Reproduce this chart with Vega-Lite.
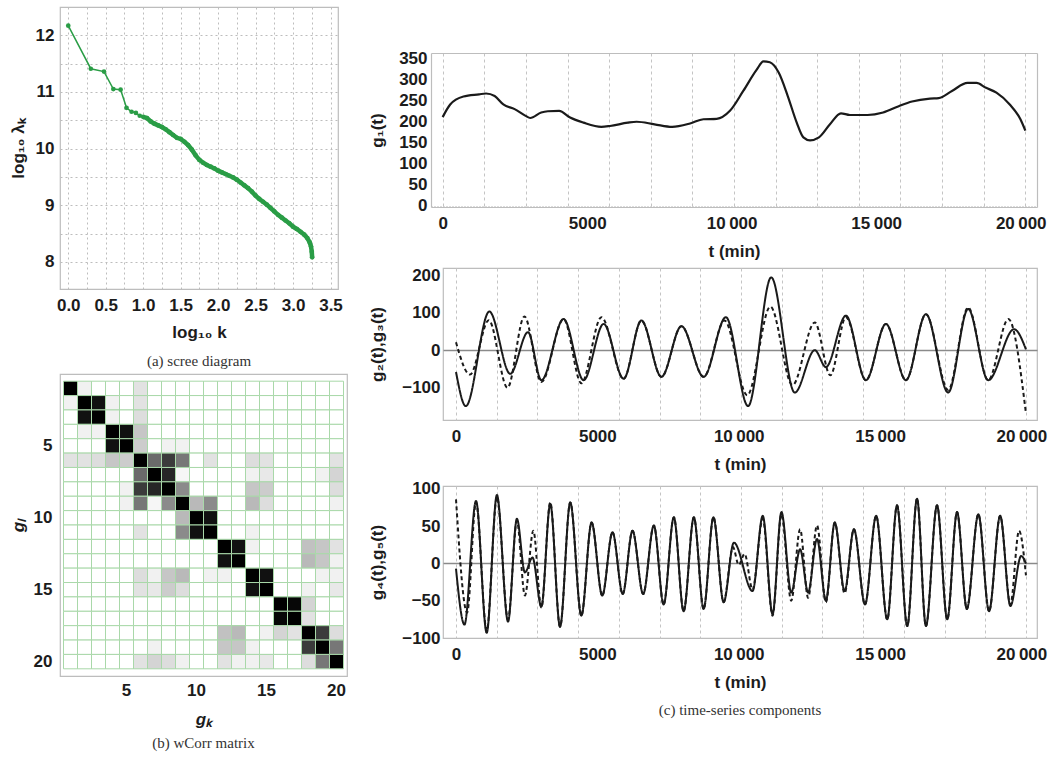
{
"$schema": "https://vega.github.io/schema/vega-lite/v6.json",
"background": "white",
"padding": {"left": 8, "top": 6, "right": 0, "bottom": 0},
"spacing": 19,
"config": {
  "view": {"stroke": "#bdbdbd", "strokeWidth": 1.2},
  "axis": {"labelFont": "Liberation Sans", "labelFontSize": 17, "labelFontWeight": "bold", "labelColor": "#1c1c1c", "titleFont": "Liberation Sans", "titleFontSize": 17, "titleFontWeight": "bold", "titleColor": "#1c1c1c", "domain": false, "ticks": false, "tickSize": 0, "labelOverlap": false, "grid": false, "labelPadding": 8},
  "title": {"font": "Liberation Serif", "fontSize": 15, "fontWeight": "normal", "color": "#333"}
},
"datasets": {
  "scree": [
    {"logk":0,"y":12.17},{"logk":0.301,"y":11.41},{"logk":0.477,"y":11.36},{"logk":0.602,"y":11.05},{"logk":0.699,"y":11.04},{"logk":0.778,"y":10.72},{"logk":0.845,"y":10.65},{"logk":0.903,"y":10.63},{"logk":0.954,"y":10.58},
    {"logk":1.0,"y":10.56},{"logk":1.05,"y":10.54},{"logk":1.1,"y":10.48},{"logk":1.15,"y":10.44},{"logk":1.2,"y":10.41},{"logk":1.25,"y":10.38},{"logk":1.3,"y":10.34},{"logk":1.35,"y":10.29},{"logk":1.4,"y":10.24},{"logk":1.45,"y":10.19},{"logk":1.5,"y":10.17},{"logk":1.55,"y":10.12},{"logk":1.6,"y":10.06},{"logk":1.65,"y":9.98},{"logk":1.7,"y":9.88},{"logk":1.75,"y":9.8},{"logk":1.8,"y":9.75},{"logk":1.85,"y":9.71},{"logk":1.9,"y":9.68},{"logk":1.95,"y":9.65},{"logk":2.0,"y":9.61},{"logk":2.05,"y":9.58},{"logk":2.1,"y":9.55},{"logk":2.15,"y":9.52},{"logk":2.2,"y":9.49},{"logk":2.25,"y":9.45},{"logk":2.3,"y":9.4},{"logk":2.35,"y":9.35},{"logk":2.4,"y":9.3},{"logk":2.45,"y":9.24},{"logk":2.5,"y":9.17},{"logk":2.55,"y":9.11},{"logk":2.6,"y":9.06},{"logk":2.65,"y":9.01},{"logk":2.7,"y":8.95},{"logk":2.75,"y":8.89},{"logk":2.8,"y":8.83},{"logk":2.85,"y":8.78},{"logk":2.9,"y":8.73},{"logk":2.95,"y":8.68},{"logk":3.0,"y":8.62},{"logk":3.05,"y":8.58},{"logk":3.1,"y":8.53},{"logk":3.15,"y":8.48},{"logk":3.19,"y":8.42},{"logk":3.22,"y":8.35},{"logk":3.24,"y":8.27},{"logk":3.25,"y":8.18},{"logk":3.255,"y":8.08}
  ],
  "g1": [
    {"t":0,"v":210},{"t":260,"v":240},{"t":720,"v":259},{"t":1260,"v":264},{"t":1500,"v":266},{"t":1800,"v":260},{"t":2100,"v":240},{"t":2490,"v":229},{"t":2870,"v":213},{"t":3030,"v":208},{"t":3410,"v":221},{"t":3640,"v":224},{"t":4030,"v":225},{"t":4410,"v":209},{"t":4870,"v":197},{"t":5490,"v":187},{"t":5790,"v":189},{"t":6410,"v":197},{"t":6710,"v":199},{"t":7330,"v":193},{"t":7940,"v":187},{"t":8560,"v":195},{"t":9020,"v":205},{"t":9480,"v":206},{"t":9940,"v":225},{"t":10400,"v":272},{"t":10860,"v":322},{"t":11100,"v":342},{"t":11320,"v":340},{"t":11630,"v":315},{"t":11940,"v":260},{"t":12250,"v":197},{"t":12480,"v":162},{"t":12710,"v":155},{"t":13020,"v":162},{"t":13400,"v":193},{"t":13780,"v":219},{"t":14090,"v":215},{"t":14700,"v":215},{"t":15240,"v":221},{"t":15780,"v":236},{"t":16240,"v":247},{"t":16860,"v":254},{"t":17160,"v":255},{"t":17620,"v":272},{"t":18160,"v":291},{"t":18470,"v":291},{"t":18780,"v":280},{"t":19160,"v":268},{"t":19620,"v":240},{"t":19990,"v":205},{"t":20160,"v":178}
  ],
  "g23": [
    {"s":"g2","t":0,"v":-58},{"s":"g2","t":346,"v":-149},{"s":"g2","t":1179,"v":103},{"s":"g2","t":1918,"v":-63},{"s":"g2","t":2547,"v":48},{"s":"g2","t":3019,"v":-80},{"s":"g2","t":3805,"v":83},{"s":"g2","t":4513,"v":-80},{"s":"g2","t":5221,"v":70},{"s":"g2","t":5928,"v":-76},{"s":"g2","t":6557,"v":79},{"s":"g2","t":7265,"v":-71},{"s":"g2","t":7973,"v":64},{"s":"g2","t":8759,"v":-71},{"s":"g2","t":9545,"v":88},{"s":"g2","t":10331,"v":-149},{"s":"g2","t":11149,"v":194},{"s":"g2","t":11982,"v":-113},{"s":"g2","t":12690,"v":0},{"s":"g2","t":13083,"v":-45},{"s":"g2","t":13791,"v":92},{"s":"g2","t":14498,"v":-80},{"s":"g2","t":15206,"v":70},{"s":"g2","t":15914,"v":-80},{"s":"g2","t":16621,"v":96},{"s":"g2","t":17407,"v":-113},{"s":"g2","t":18115,"v":110},{"s":"g2","t":18823,"v":-80},{"s":"g2","t":19738,"v":56},{"s":"g2","t":20160,"v":2},
    {"s":"g3","t":0,"v":21},{"s":"g3","t":495,"v":-65},{"s":"g3","t":1160,"v":80},{"s":"g3","t":1820,"v":-100},{"s":"g3","t":2420,"v":90},{"s":"g3","t":3019,"v":-85},{"s":"g3","t":3805,"v":83},{"s":"g3","t":4434,"v":-88},{"s":"g3","t":5142,"v":88},{"s":"g3","t":5928,"v":-76},{"s":"g3","t":6557,"v":79},{"s":"g3","t":7265,"v":-71},{"s":"g3","t":7973,"v":64},{"s":"g3","t":8759,"v":-71},{"s":"g3","t":9500,"v":79},{"s":"g3","t":10300,"v":-120},{"s":"g3","t":11120,"v":116},{"s":"g3","t":11900,"v":-93},{"s":"g3","t":12690,"v":74},{"s":"g3","t":13240,"v":-67},{"s":"g3","t":13791,"v":88},{"s":"g3","t":14498,"v":-80},{"s":"g3","t":15206,"v":70},{"s":"g3","t":15914,"v":-80},{"s":"g3","t":16621,"v":96},{"s":"g3","t":17407,"v":-106},{"s":"g3","t":18115,"v":114},{"s":"g3","t":18823,"v":-80},{"s":"g3","t":19537,"v":83},{"s":"g3","t":20160,"v":-169}
  ],
  "g45": [
    {"s":"g4","t":0,"v":-7},{"s":"g4","t":299,"v":-82},{"s":"g4","t":708,"v":84},{"s":"g4","t":1085,"v":-93},{"s":"g4","t":1447,"v":92},{"s":"g4","t":1840,"v":-78},{"s":"g4","t":2154,"v":60},{"s":"g4","t":2437,"v":-12},{"s":"g4","t":2705,"v":8},{"s":"g4","t":3019,"v":-58},{"s":"g4","t":3334,"v":80},{"s":"g4","t":3680,"v":-85},{"s":"g4","t":4041,"v":82},{"s":"g4","t":4434,"v":-70},{"s":"g4","t":4796,"v":55},{"s":"g4","t":5173,"v":-43},{"s":"g4","t":5535,"v":42},{"s":"g4","t":5897,"v":-41},{"s":"g4","t":6243,"v":44},{"s":"g4","t":6620,"v":-41},{"s":"g4","t":6998,"v":51},{"s":"g4","t":7344,"v":-55},{"s":"g4","t":7705,"v":62},{"s":"g4","t":8051,"v":-64},{"s":"g4","t":8413,"v":62},{"s":"g4","t":8759,"v":-61},{"s":"g4","t":9105,"v":62},{"s":"g4","t":9466,"v":-52},{"s":"g4","t":9828,"v":28},{"s":"g4","t":10489,"v":-37},{"s":"g4","t":10850,"v":64},{"s":"g4","t":11196,"v":-68},{"s":"g4","t":11511,"v":69},{"s":"g4","t":11857,"v":-39},{"s":"g4","t":12171,"v":19},{"s":"g4","t":12454,"v":-39},{"s":"g4","t":12769,"v":33},{"s":"g4","t":13083,"v":-50},{"s":"g4","t":13397,"v":55},{"s":"g4","t":13744,"v":-37},{"s":"g4","t":14074,"v":46},{"s":"g4","t":14467,"v":-55},{"s":"g4","t":14860,"v":64},{"s":"g4","t":15253,"v":-75},{"s":"g4","t":15599,"v":78},{"s":"g4","t":15961,"v":-84},{"s":"g4","t":16307,"v":87},{"s":"g4","t":16621,"v":-84},{"s":"g4","t":17014,"v":78},{"s":"g4","t":17376,"v":-75},{"s":"g4","t":17722,"v":69},{"s":"g4","t":18068,"v":-61},{"s":"g4","t":18476,"v":66},{"s":"g4","t":18854,"v":-64},{"s":"g4","t":19247,"v":64},{"s":"g4","t":19609,"v":-57},{"s":"g4","t":19990,"v":10},{"s":"g4","t":20160,"v":0},
    {"s":"g5","t":0,"v":86},{"s":"g5","t":393,"v":-66},{"s":"g5","t":708,"v":82},{"s":"g5","t":1085,"v":-90},{"s":"g5","t":1447,"v":89},{"s":"g5","t":1840,"v":-75},{"s":"g5","t":2154,"v":57},{"s":"g5","t":2437,"v":-43},{"s":"g5","t":2736,"v":44},{"s":"g5","t":3019,"v":-59},{"s":"g5","t":3334,"v":82},{"s":"g5","t":3680,"v":-85},{"s":"g5","t":4041,"v":82},{"s":"g5","t":4434,"v":-70},{"s":"g5","t":4796,"v":55},{"s":"g5","t":5173,"v":-43},{"s":"g5","t":5535,"v":42},{"s":"g5","t":5897,"v":-41},{"s":"g5","t":6243,"v":44},{"s":"g5","t":6620,"v":-41},{"s":"g5","t":6998,"v":51},{"s":"g5","t":7344,"v":-55},{"s":"g5","t":7705,"v":62},{"s":"g5","t":8051,"v":-64},{"s":"g5","t":8413,"v":62},{"s":"g5","t":8759,"v":-61},{"s":"g5","t":9105,"v":62},{"s":"g5","t":9466,"v":-52},{"s":"g5","t":9797,"v":22},{"s":"g5","t":10000,"v":-2},{"s":"g5","t":10206,"v":13},{"s":"g5","t":10489,"v":-35},{"s":"g5","t":10850,"v":60},{"s":"g5","t":11196,"v":-70},{"s":"g5","t":11511,"v":66},{"s":"g5","t":11857,"v":-50},{"s":"g5","t":12171,"v":46},{"s":"g5","t":12454,"v":-46},{"s":"g5","t":12769,"v":51},{"s":"g5","t":13083,"v":-52},{"s":"g5","t":13397,"v":55},{"s":"g5","t":13744,"v":-40},{"s":"g5","t":14074,"v":46},{"s":"g5","t":14467,"v":-55},{"s":"g5","t":14860,"v":64},{"s":"g5","t":15253,"v":-75},{"s":"g5","t":15599,"v":78},{"s":"g5","t":15961,"v":-84},{"s":"g5","t":16307,"v":87},{"s":"g5","t":16621,"v":-84},{"s":"g5","t":17014,"v":78},{"s":"g5","t":17376,"v":-75},{"s":"g5","t":17722,"v":69},{"s":"g5","t":18068,"v":-61},{"s":"g5","t":18476,"v":66},{"s":"g5","t":18854,"v":-64},{"s":"g5","t":19247,"v":64},{"s":"g5","t":19609,"v":-55},{"s":"g5","t":19915,"v":44},{"s":"g5","t":20160,"v":-16}
  ],
  "wcorr": [
{"i":1,"k":1,"w":1},{"i":1,"k":2,"w":0.05},{"i":1,"k":3,"w":0},{"i":1,"k":4,"w":0},{"i":1,"k":5,"w":0},{"i":1,"k":6,"w":0.1},{"i":1,"k":7,"w":0},{"i":1,"k":8,"w":0},{"i":1,"k":9,"w":0},{"i":1,"k":10,"w":0},{"i":1,"k":11,"w":0},{"i":1,"k":12,"w":0},{"i":1,"k":13,"w":0},{"i":1,"k":14,"w":0},{"i":1,"k":15,"w":0},{"i":1,"k":16,"w":0},{"i":1,"k":17,"w":0},{"i":1,"k":18,"w":0},{"i":1,"k":19,"w":0},{"i":1,"k":20,"w":0},
{"i":2,"k":1,"w":0.05},{"i":2,"k":2,"w":1},{"i":2,"k":3,"w":0.95},{"i":2,"k":4,"w":0.05},{"i":2,"k":5,"w":0},{"i":2,"k":6,"w":0.1},{"i":2,"k":7,"w":0},{"i":2,"k":8,"w":0},{"i":2,"k":9,"w":0},{"i":2,"k":10,"w":0},{"i":2,"k":11,"w":0},{"i":2,"k":12,"w":0},{"i":2,"k":13,"w":0},{"i":2,"k":14,"w":0},{"i":2,"k":15,"w":0},{"i":2,"k":16,"w":0},{"i":2,"k":17,"w":0},{"i":2,"k":18,"w":0},{"i":2,"k":19,"w":0},{"i":2,"k":20,"w":0},
{"i":3,"k":1,"w":0},{"i":3,"k":2,"w":0.95},{"i":3,"k":3,"w":1},{"i":3,"k":4,"w":0.05},{"i":3,"k":5,"w":0},{"i":3,"k":6,"w":0.12},{"i":3,"k":7,"w":0},{"i":3,"k":8,"w":0},{"i":3,"k":9,"w":0},{"i":3,"k":10,"w":0},{"i":3,"k":11,"w":0},{"i":3,"k":12,"w":0},{"i":3,"k":13,"w":0},{"i":3,"k":14,"w":0},{"i":3,"k":15,"w":0},{"i":3,"k":16,"w":0},{"i":3,"k":17,"w":0},{"i":3,"k":18,"w":0},{"i":3,"k":19,"w":0},{"i":3,"k":20,"w":0},
{"i":4,"k":1,"w":0},{"i":4,"k":2,"w":0.05},{"i":4,"k":3,"w":0.05},{"i":4,"k":4,"w":1},{"i":4,"k":5,"w":0.95},{"i":4,"k":6,"w":0.2},{"i":4,"k":7,"w":0},{"i":4,"k":8,"w":0},{"i":4,"k":9,"w":0},{"i":4,"k":10,"w":0},{"i":4,"k":11,"w":0},{"i":4,"k":12,"w":0},{"i":4,"k":13,"w":0},{"i":4,"k":14,"w":0},{"i":4,"k":15,"w":0},{"i":4,"k":16,"w":0},{"i":4,"k":17,"w":0},{"i":4,"k":18,"w":0},{"i":4,"k":19,"w":0},{"i":4,"k":20,"w":0},
{"i":5,"k":1,"w":0},{"i":5,"k":2,"w":0},{"i":5,"k":3,"w":0},{"i":5,"k":4,"w":0.95},{"i":5,"k":5,"w":1},{"i":5,"k":6,"w":0.18},{"i":5,"k":7,"w":0},{"i":5,"k":8,"w":0.05},{"i":5,"k":9,"w":0.05},{"i":5,"k":10,"w":0},{"i":5,"k":11,"w":0},{"i":5,"k":12,"w":0},{"i":5,"k":13,"w":0},{"i":5,"k":14,"w":0},{"i":5,"k":15,"w":0},{"i":5,"k":16,"w":0},{"i":5,"k":17,"w":0},{"i":5,"k":18,"w":0},{"i":5,"k":19,"w":0},{"i":5,"k":20,"w":0},
{"i":6,"k":1,"w":0.1},{"i":6,"k":2,"w":0.1},{"i":6,"k":3,"w":0.12},{"i":6,"k":4,"w":0.2},{"i":6,"k":5,"w":0.18},{"i":6,"k":6,"w":1},{"i":6,"k":7,"w":0.55},{"i":6,"k":8,"w":0.75},{"i":6,"k":9,"w":0.5},{"i":6,"k":10,"w":0},{"i":6,"k":11,"w":0.1},{"i":6,"k":12,"w":0},{"i":6,"k":13,"w":0},{"i":6,"k":14,"w":0.12},{"i":6,"k":15,"w":0.1},{"i":6,"k":16,"w":0},{"i":6,"k":17,"w":0},{"i":6,"k":18,"w":0},{"i":6,"k":19,"w":0},{"i":6,"k":20,"w":0.1},
{"i":7,"k":1,"w":0},{"i":7,"k":2,"w":0},{"i":7,"k":3,"w":0},{"i":7,"k":4,"w":0},{"i":7,"k":5,"w":0},{"i":7,"k":6,"w":0.55},{"i":7,"k":7,"w":1},{"i":7,"k":8,"w":0.85},{"i":7,"k":9,"w":0.03},{"i":7,"k":10,"w":0},{"i":7,"k":11,"w":0},{"i":7,"k":12,"w":0},{"i":7,"k":13,"w":0},{"i":7,"k":14,"w":0.05},{"i":7,"k":15,"w":0.08},{"i":7,"k":16,"w":0},{"i":7,"k":17,"w":0},{"i":7,"k":18,"w":0},{"i":7,"k":19,"w":0.05},{"i":7,"k":20,"w":0.15},
{"i":8,"k":1,"w":0},{"i":8,"k":2,"w":0},{"i":8,"k":3,"w":0},{"i":8,"k":4,"w":0},{"i":8,"k":5,"w":0.05},{"i":8,"k":6,"w":0.75},{"i":8,"k":7,"w":0.85},{"i":8,"k":8,"w":1},{"i":8,"k":9,"w":0.42},{"i":8,"k":10,"w":0},{"i":8,"k":11,"w":0},{"i":8,"k":12,"w":0},{"i":8,"k":13,"w":0},{"i":8,"k":14,"w":0.2},{"i":8,"k":15,"w":0.18},{"i":8,"k":16,"w":0},{"i":8,"k":17,"w":0},{"i":8,"k":18,"w":0},{"i":8,"k":19,"w":0},{"i":8,"k":20,"w":0.12},
{"i":9,"k":1,"w":0},{"i":9,"k":2,"w":0},{"i":9,"k":3,"w":0},{"i":9,"k":4,"w":0},{"i":9,"k":5,"w":0.05},{"i":9,"k":6,"w":0.5},{"i":9,"k":7,"w":0.03},{"i":9,"k":8,"w":0.42},{"i":9,"k":9,"w":1},{"i":9,"k":10,"w":0.25},{"i":9,"k":11,"w":0.42},{"i":9,"k":12,"w":0},{"i":9,"k":13,"w":0},{"i":9,"k":14,"w":0.25},{"i":9,"k":15,"w":0.12},{"i":9,"k":16,"w":0},{"i":9,"k":17,"w":0},{"i":9,"k":18,"w":0},{"i":9,"k":19,"w":0},{"i":9,"k":20,"w":0.05},
{"i":10,"k":1,"w":0},{"i":10,"k":2,"w":0},{"i":10,"k":3,"w":0},{"i":10,"k":4,"w":0},{"i":10,"k":5,"w":0},{"i":10,"k":6,"w":0},{"i":10,"k":7,"w":0},{"i":10,"k":8,"w":0},{"i":10,"k":9,"w":0.25},{"i":10,"k":10,"w":1},{"i":10,"k":11,"w":0.95},{"i":10,"k":12,"w":0},{"i":10,"k":13,"w":0},{"i":10,"k":14,"w":0},{"i":10,"k":15,"w":0},{"i":10,"k":16,"w":0},{"i":10,"k":17,"w":0},{"i":10,"k":18,"w":0},{"i":10,"k":19,"w":0},{"i":10,"k":20,"w":0},
{"i":11,"k":1,"w":0},{"i":11,"k":2,"w":0},{"i":11,"k":3,"w":0},{"i":11,"k":4,"w":0},{"i":11,"k":5,"w":0},{"i":11,"k":6,"w":0.1},{"i":11,"k":7,"w":0},{"i":11,"k":8,"w":0},{"i":11,"k":9,"w":0.42},{"i":11,"k":10,"w":0.95},{"i":11,"k":11,"w":1},{"i":11,"k":12,"w":0},{"i":11,"k":13,"w":0},{"i":11,"k":14,"w":0.05},{"i":11,"k":15,"w":0},{"i":11,"k":16,"w":0},{"i":11,"k":17,"w":0},{"i":11,"k":18,"w":0},{"i":11,"k":19,"w":0},{"i":11,"k":20,"w":0},
{"i":12,"k":1,"w":0},{"i":12,"k":2,"w":0},{"i":12,"k":3,"w":0},{"i":12,"k":4,"w":0},{"i":12,"k":5,"w":0},{"i":12,"k":6,"w":0},{"i":12,"k":7,"w":0},{"i":12,"k":8,"w":0},{"i":12,"k":9,"w":0},{"i":12,"k":10,"w":0},{"i":12,"k":11,"w":0},{"i":12,"k":12,"w":1},{"i":12,"k":13,"w":0.95},{"i":12,"k":14,"w":0.05},{"i":12,"k":15,"w":0},{"i":12,"k":16,"w":0},{"i":12,"k":17,"w":0},{"i":12,"k":18,"w":0.22},{"i":12,"k":19,"w":0.2},{"i":12,"k":20,"w":0.1},
{"i":13,"k":1,"w":0},{"i":13,"k":2,"w":0},{"i":13,"k":3,"w":0},{"i":13,"k":4,"w":0},{"i":13,"k":5,"w":0},{"i":13,"k":6,"w":0},{"i":13,"k":7,"w":0},{"i":13,"k":8,"w":0},{"i":13,"k":9,"w":0},{"i":13,"k":10,"w":0},{"i":13,"k":11,"w":0},{"i":13,"k":12,"w":0.95},{"i":13,"k":13,"w":1},{"i":13,"k":14,"w":0},{"i":13,"k":15,"w":0},{"i":13,"k":16,"w":0},{"i":13,"k":17,"w":0},{"i":13,"k":18,"w":0.25},{"i":13,"k":19,"w":0.2},{"i":13,"k":20,"w":0.05},
{"i":14,"k":1,"w":0},{"i":14,"k":2,"w":0},{"i":14,"k":3,"w":0},{"i":14,"k":4,"w":0},{"i":14,"k":5,"w":0},{"i":14,"k":6,"w":0.12},{"i":14,"k":7,"w":0.05},{"i":14,"k":8,"w":0.2},{"i":14,"k":9,"w":0.25},{"i":14,"k":10,"w":0},{"i":14,"k":11,"w":0.05},{"i":14,"k":12,"w":0.05},{"i":14,"k":13,"w":0},{"i":14,"k":14,"w":1},{"i":14,"k":15,"w":0.95},{"i":14,"k":16,"w":0},{"i":14,"k":17,"w":0},{"i":14,"k":18,"w":0},{"i":14,"k":19,"w":0.05},{"i":14,"k":20,"w":0.05},
{"i":15,"k":1,"w":0},{"i":15,"k":2,"w":0},{"i":15,"k":3,"w":0},{"i":15,"k":4,"w":0},{"i":15,"k":5,"w":0},{"i":15,"k":6,"w":0.1},{"i":15,"k":7,"w":0.08},{"i":15,"k":8,"w":0.18},{"i":15,"k":9,"w":0.12},{"i":15,"k":10,"w":0},{"i":15,"k":11,"w":0},{"i":15,"k":12,"w":0},{"i":15,"k":13,"w":0},{"i":15,"k":14,"w":0.95},{"i":15,"k":15,"w":1},{"i":15,"k":16,"w":0},{"i":15,"k":17,"w":0},{"i":15,"k":18,"w":0.05},{"i":15,"k":19,"w":0},{"i":15,"k":20,"w":0.08},
{"i":16,"k":1,"w":0},{"i":16,"k":2,"w":0},{"i":16,"k":3,"w":0},{"i":16,"k":4,"w":0},{"i":16,"k":5,"w":0},{"i":16,"k":6,"w":0},{"i":16,"k":7,"w":0},{"i":16,"k":8,"w":0},{"i":16,"k":9,"w":0},{"i":16,"k":10,"w":0},{"i":16,"k":11,"w":0},{"i":16,"k":12,"w":0},{"i":16,"k":13,"w":0},{"i":16,"k":14,"w":0},{"i":16,"k":15,"w":0},{"i":16,"k":16,"w":1},{"i":16,"k":17,"w":0.98},{"i":16,"k":18,"w":0.15},{"i":16,"k":19,"w":0},{"i":16,"k":20,"w":0},
{"i":17,"k":1,"w":0},{"i":17,"k":2,"w":0},{"i":17,"k":3,"w":0},{"i":17,"k":4,"w":0},{"i":17,"k":5,"w":0},{"i":17,"k":6,"w":0},{"i":17,"k":7,"w":0},{"i":17,"k":8,"w":0},{"i":17,"k":9,"w":0},{"i":17,"k":10,"w":0},{"i":17,"k":11,"w":0},{"i":17,"k":12,"w":0},{"i":17,"k":13,"w":0},{"i":17,"k":14,"w":0},{"i":17,"k":15,"w":0},{"i":17,"k":16,"w":0.98},{"i":17,"k":17,"w":1},{"i":17,"k":18,"w":0.1},{"i":17,"k":19,"w":0},{"i":17,"k":20,"w":0},
{"i":18,"k":1,"w":0},{"i":18,"k":2,"w":0},{"i":18,"k":3,"w":0},{"i":18,"k":4,"w":0},{"i":18,"k":5,"w":0},{"i":18,"k":6,"w":0},{"i":18,"k":7,"w":0},{"i":18,"k":8,"w":0},{"i":18,"k":9,"w":0},{"i":18,"k":10,"w":0},{"i":18,"k":11,"w":0},{"i":18,"k":12,"w":0.22},{"i":18,"k":13,"w":0.25},{"i":18,"k":14,"w":0},{"i":18,"k":15,"w":0.05},{"i":18,"k":16,"w":0.15},{"i":18,"k":17,"w":0.1},{"i":18,"k":18,"w":1},{"i":18,"k":19,"w":0.75},{"i":18,"k":20,"w":0.12},
{"i":19,"k":1,"w":0},{"i":19,"k":2,"w":0},{"i":19,"k":3,"w":0},{"i":19,"k":4,"w":0},{"i":19,"k":5,"w":0},{"i":19,"k":6,"w":0},{"i":19,"k":7,"w":0.05},{"i":19,"k":8,"w":0},{"i":19,"k":9,"w":0},{"i":19,"k":10,"w":0},{"i":19,"k":11,"w":0},{"i":19,"k":12,"w":0.2},{"i":19,"k":13,"w":0.2},{"i":19,"k":14,"w":0.05},{"i":19,"k":15,"w":0},{"i":19,"k":16,"w":0},{"i":19,"k":17,"w":0},{"i":19,"k":18,"w":0.75},{"i":19,"k":19,"w":1},{"i":19,"k":20,"w":0.5},
{"i":20,"k":1,"w":0},{"i":20,"k":2,"w":0},{"i":20,"k":3,"w":0},{"i":20,"k":4,"w":0},{"i":20,"k":5,"w":0},{"i":20,"k":6,"w":0.1},{"i":20,"k":7,"w":0.15},{"i":20,"k":8,"w":0.12},{"i":20,"k":9,"w":0.05},{"i":20,"k":10,"w":0},{"i":20,"k":11,"w":0},{"i":20,"k":12,"w":0.1},{"i":20,"k":13,"w":0.05},{"i":20,"k":14,"w":0.05},{"i":20,"k":15,"w":0.08},{"i":20,"k":16,"w":0},{"i":20,"k":17,"w":0},{"i":20,"k":18,"w":0.12},{"i":20,"k":19,"w":0.5},{"i":20,"k":20,"w":1}
  ]
},
"hconcat": [
  {
    "vconcat": [
      {
        "width": 278, "height": 282,
        "title": {"text": "(a) scree diagram", "orient": "bottom", "offset": 14},
        "data": {"name": "scree"},
        "encoding": {
          "x": {"field": "logk", "type": "quantitative", "scale": {"domain": [-0.11, 3.6], "nice": false, "zero": false},
            "axis": {"title": "log₁₀ k", "values": [0,0.25,0.5,0.75,1,1.25,1.5,1.75,2,2.25,2.5,2.75,3,3.25,3.5], "labelExpr": "(datum.value*2) % 1 == 0 ? format(datum.value, '.1f') : ''", "grid": true, "gridColor": "#bdbdbd", "gridDash": [2,3], "labelPadding": 8, "titlePadding": 11}},
          "y": {"field": "y", "type": "quantitative", "scale": {"domain": [7.52, 12.5], "nice": false, "zero": false},
            "axis": {"title": "log₁₀ λₖ", "values": [8,8.5,9,9.5,10,10.5,11,11.5,12], "labelExpr": "datum.value % 1 == 0 ? format(datum.value, 'd') : ''", "grid": true, "gridColor": "#bdbdbd", "gridDash": [2,3], "labelPadding": 6, "minExtent": 24, "maxExtent": 24, "titlePadding": 9}}
        },
        "layer": [
          {"mark": {"type": "line", "color": "#2a9d46", "strokeWidth": 1.5}},
          {"transform": [{"filter": "datum.logk >= 0.99"}], "mark": {"type": "line", "color": "#2a9d46", "strokeWidth": 4.5}},
          {"mark": {"type": "point", "filled": true, "color": "#2a9d46", "size": 22, "opacity": 1}}
        ]
      },
      {
        "width": 287, "height": 302,
        "title": {"text": "(b) wCorr matrix", "orient": "bottom", "offset": 9},
        "data": {"name": "wcorr"},
        "mark": {"type": "rect", "stroke": "#a9d8a9", "strokeWidth": 1},
        "encoding": {
          "x": {"field": "k", "type": "ordinal", "scale": {"paddingInner": 0, "paddingOuter": 0.25},
            "axis": {"title": "gₖ", "titleFontStyle": "italic", "labelAngle": 0, "labelExpr": "datum.value % 5 == 0 ? datum.label : ''", "labelPadding": 6, "titlePadding": 13}},
          "y": {"field": "i", "type": "ordinal", "scale": {"paddingInner": 0, "paddingOuter": 0.5},
            "axis": {"title": "gₗ", "titleFontStyle": "italic", "labelExpr": "datum.value % 5 == 0 ? datum.label : ''", "labelPadding": 8, "minExtent": 26, "maxExtent": 26, "titlePadding": 7}},
          "color": {"field": "w", "type": "quantitative", "scale": {"domain": [0, 1], "range": ["#ffffff", "#000000"]}, "legend": null}
        }
      }
    ],
    "spacing": 3
  },
  {
    "vconcat": [
      {
        "width": 10, "height": 36,
        "view": {"stroke": null},
        "data": {"values": []},
        "mark": "point"
      },
      {
        "width": 594, "height": 154,
        "view": {"stroke": null},
        "data": {"name": "g1"},
        "layer": [
          {
            "mark": {"type": "line", "color": "#1a1a1a", "strokeWidth": 2.2, "interpolate": "monotone"},
            "encoding": {
              "x": {"field": "t", "type": "quantitative", "scale": {"domain": [-403, 20563], "range": [-12, 594], "nice": false, "zero": false},
                "axis": {"title": "t (min)", "values": [0,1440,2880,4320,5000,5760,7200,8640,10000,10080,11520,12960,14400,15000,15840,17280,18720,20000,20160], "labelExpr": "datum.value % 5000 === 0 ? (datum.value >= 10000 ? floor(datum.value/1000) + '\u2009000' : '' + datum.value) : ''", "grid": true, "gridColor": {"condition": {"test": "datum.value % 1440 === 0", "value": "#c4c4c4"}, "value": "rgba(0,0,0,0)"}, "gridDash": [3,3], "labelPadding": 8, "titlePadding": 12, "domain": true, "domainColor": "#bdbdbd", "domainWidth": 1.2}},
              "y": {"field": "v", "type": "quantitative", "scale": {"domain": [-3, 362], "nice": false, "zero": false},
                "axis": {"title": "g₁(t)", "values": [0,50,100,150,200,250,300,350], "offset": 12, "minExtent": 36, "maxExtent": 36, "labelPadding": 4, "titlePadding": 9, "grid": true, "gridColor": {"condition": {"test": "datum.value === 0", "value": "#bbbbbb"}, "value": "rgba(0,0,0,0)"}, "gridDash": [1,2], "domain": true, "domainColor": "#bdbdbd", "domainWidth": 1.2}}
            }
          },
          {
            "mark": {"type": "line", "opacity": 0},
            "encoding": {
              "x": {"field": "t", "type": "quantitative", "axis": {"orient": "top", "domain": true, "domainColor": "#bdbdbd", "domainWidth": 1.2, "labels": false, "grid": false, "title": null, "minExtent": 0}},
              "y": {"field": "v", "type": "quantitative", "axis": {"orient": "right", "domain": true, "domainColor": "#bdbdbd", "domainWidth": 1.2, "labels": false, "grid": false, "title": null, "minExtent": 0}}
            }
          }
        ],
        "resolve": {"axis": {"x": "independent", "y": "independent"}}
      },
      {
        "width": 594, "height": 152,
        "data": {"name": "g23"},
        "mark": {"type": "line", "color": "#1a1a1a", "strokeWidth": 2, "interpolate": "monotone"},
        "encoding": {
          "x": {"field": "t", "type": "quantitative", "scale": {"domain": [-460, 20550], "nice": false, "zero": false},
            "axis": {"title": "t (min)", "values": [0,1440,2880,4320,5000,5760,7200,8640,10000,10080,11520,12960,14400,15000,15840,17280,18720,20000,20160], "labelExpr": "datum.value % 5000 === 0 ? (datum.value >= 10000 ? floor(datum.value/1000) + '\u2009000' : '' + datum.value) : ''", "grid": true, "gridColor": {"condition": {"test": "datum.value % 1440 === 0", "value": "#c4c4c4"}, "value": "rgba(0,0,0,0)"}, "gridDash": [3,3], "labelPadding": 8, "titlePadding": 12}},
          "y": {"field": "v", "type": "quantitative", "scale": {"domain": [-186, 219], "nice": false, "zero": false},
            "axis": {"title": "g₂(t),g₃(t)", "values": [-100,0,100,200], "minExtent": 48, "maxExtent": 48, "labelPadding": 3, "titlePadding": 9, "grid": true, "gridColor": {"condition": {"test": "datum.value === 0", "value": "#8a8a8a"}, "value": "rgba(0,0,0,0)"}, "gridWidth": 1.3}},
          "strokeDash": {"field": "s", "type": "nominal", "scale": {"domain": ["g2","g3"], "range": [[1,0],[4,3]]}, "legend": null}
        }
      },
      {
        "width": 594, "height": 152,
        "title": {"text": "(c) time-series components", "orient": "bottom", "offset": 13},
        "data": {"name": "g45"},
        "mark": {"type": "line", "color": "#1a1a1a", "strokeWidth": 2, "interpolate": "monotone"},
        "encoding": {
          "x": {"field": "t", "type": "quantitative", "scale": {"domain": [-460, 20550], "nice": false, "zero": false},
            "axis": {"title": "t (min)", "values": [0,1440,2880,4320,5000,5760,7200,8640,10000,10080,11520,12960,14400,15000,15840,17280,18720,20000,20160], "labelExpr": "datum.value % 5000 === 0 ? (datum.value >= 10000 ? floor(datum.value/1000) + '\u2009000' : '' + datum.value) : ''", "grid": true, "gridColor": {"condition": {"test": "datum.value % 1440 === 0", "value": "#c4c4c4"}, "value": "rgba(0,0,0,0)"}, "gridDash": [3,3], "labelPadding": 8, "titlePadding": 12}},
          "y": {"field": "v", "type": "quantitative", "scale": {"domain": [-100, 104], "nice": false, "zero": false},
            "axis": {"title": "g₄(t),g₅(t)", "values": [-100,-50,0,50,100], "minExtent": 48, "maxExtent": 48, "labelPadding": 3, "titlePadding": 9, "grid": true, "gridColor": {"condition": {"test": "datum.value === 0", "value": "#8a8a8a"}, "value": "rgba(0,0,0,0)"}, "gridWidth": 1.3}},
          "strokeDash": {"field": "s", "type": "nominal", "scale": {"domain": ["g4","g5"], "range": [[1,0],[4,3]]}, "legend": null}
        }
      }
    ],
    "spacing": 6
  }
]
}
